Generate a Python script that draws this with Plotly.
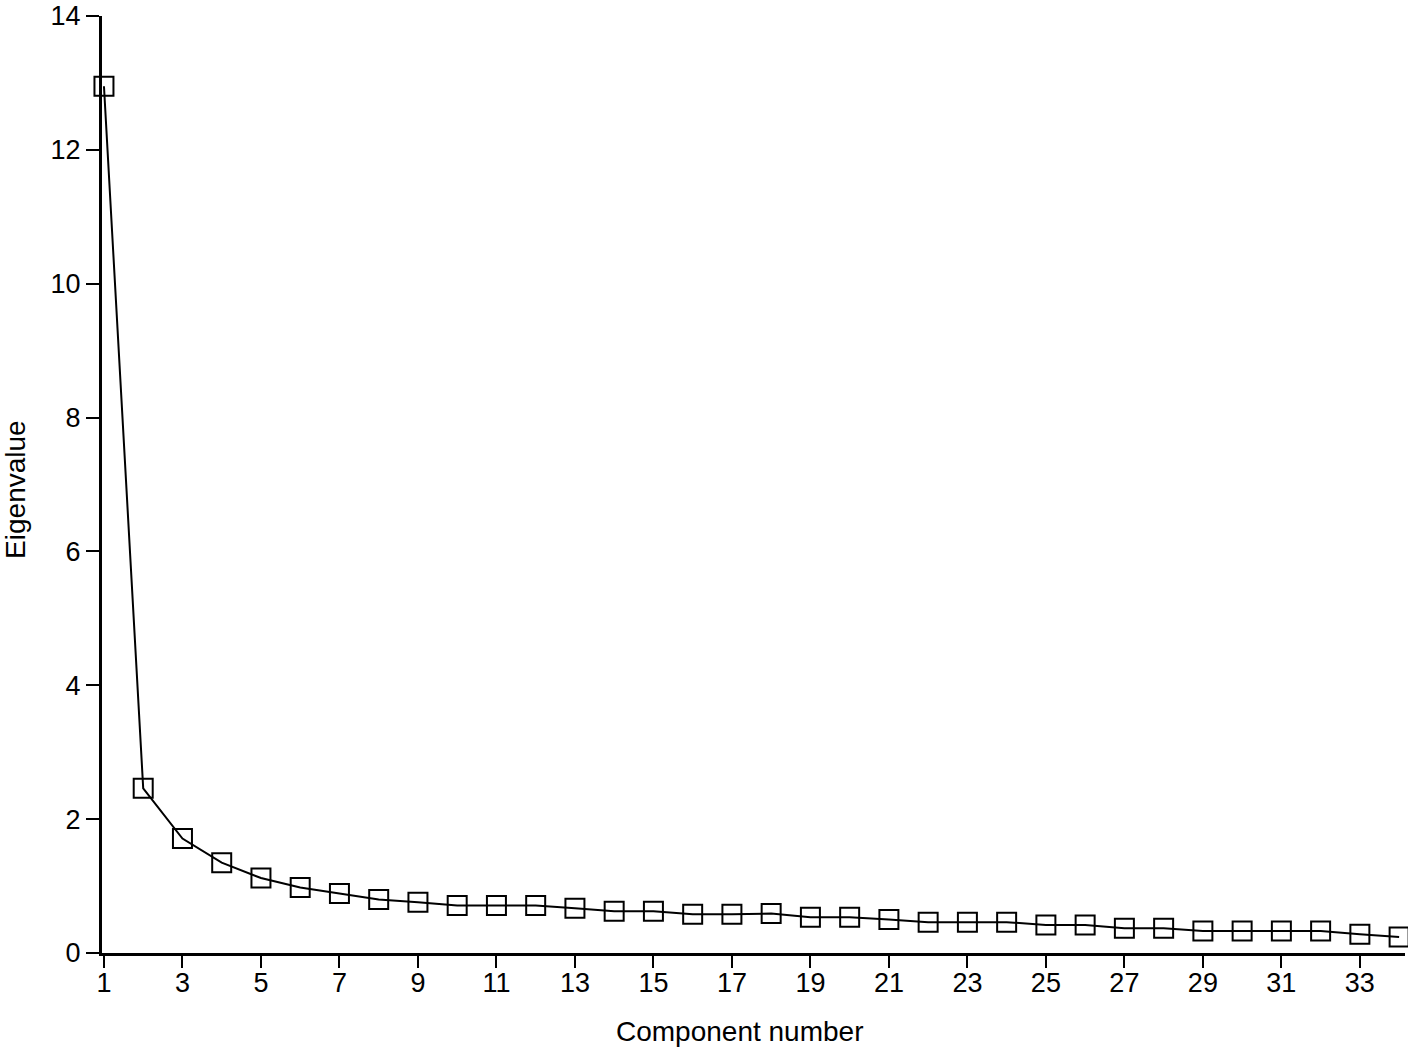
import plotly.graph_objects as go

# scree plot values
components = list(range(1, 35))
eigenvalues = [12.95, 2.46, 1.71, 1.35, 1.12, 0.98, 0.89, 0.80, 0.76, 0.71,
               0.71, 0.71, 0.67, 0.625, 0.625, 0.58, 0.58, 0.59, 0.535, 0.535,
               0.50, 0.46, 0.46, 0.46, 0.42, 0.42, 0.37, 0.37, 0.33, 0.33,
               0.33, 0.33, 0.28, 0.24]
x_ticks = list(range(1, 34, 2))
y_ticks = [0, 2, 4, 6, 8, 10, 12, 14]

font = "Liberation Sans, Arial, Helvetica, sans-serif"

fig = go.Figure()
fig.add_trace(go.Scatter(
    x=components, y=eigenvalues, mode="lines+markers",
    line=dict(color="black", width=2),
    marker=dict(symbol="square-open", size=19, color="black", line=dict(width=2)),
    cliponaxis=False, showlegend=False,
))

fig.update_layout(
    width=1408, height=1050,
    margin=dict(l=102, r=3, t=16, b=97),
    plot_bgcolor="white", paper_bgcolor="white",
    font=dict(family=font, size=27, color="black"),
)
fig.update_xaxes(
    range=[0.95, 34.15], tickvals=x_ticks, ticks="outside", ticklen=12,
    tickwidth=2, tickcolor="black", showline=True, linecolor="black",
    linewidth=3, showgrid=False, zeroline=False, automargin=False,
    ticklabelstandoff=-8,
)
fig.update_yaxes(
    range=[0, 14], tickvals=y_ticks, ticks="outside", ticklen=13,
    tickwidth=2, tickcolor="black", showline=True, linecolor="black",
    linewidth=3, showgrid=False, zeroline=False, automargin=False,
    ticklabeloverflow="allow",
)

fig.add_annotation(text="Component number", xref="paper", yref="paper",
                   x=0.4896, y=-0.084, xanchor="center", yanchor="middle",
                   showarrow=False, font=dict(size=28))
fig.add_annotation(text="Eigenvalue", xref="paper", yref="paper",
                   x=-0.067, y=0.495, xanchor="center", yanchor="middle",
                   textangle=-90, showarrow=False, font=dict(size=28))

# drop the default page margin so the figure sits at the window corner
fig.write_html("out.html", config={"displayModeBar": False},
               post_script="document.body.style.margin='0';")
